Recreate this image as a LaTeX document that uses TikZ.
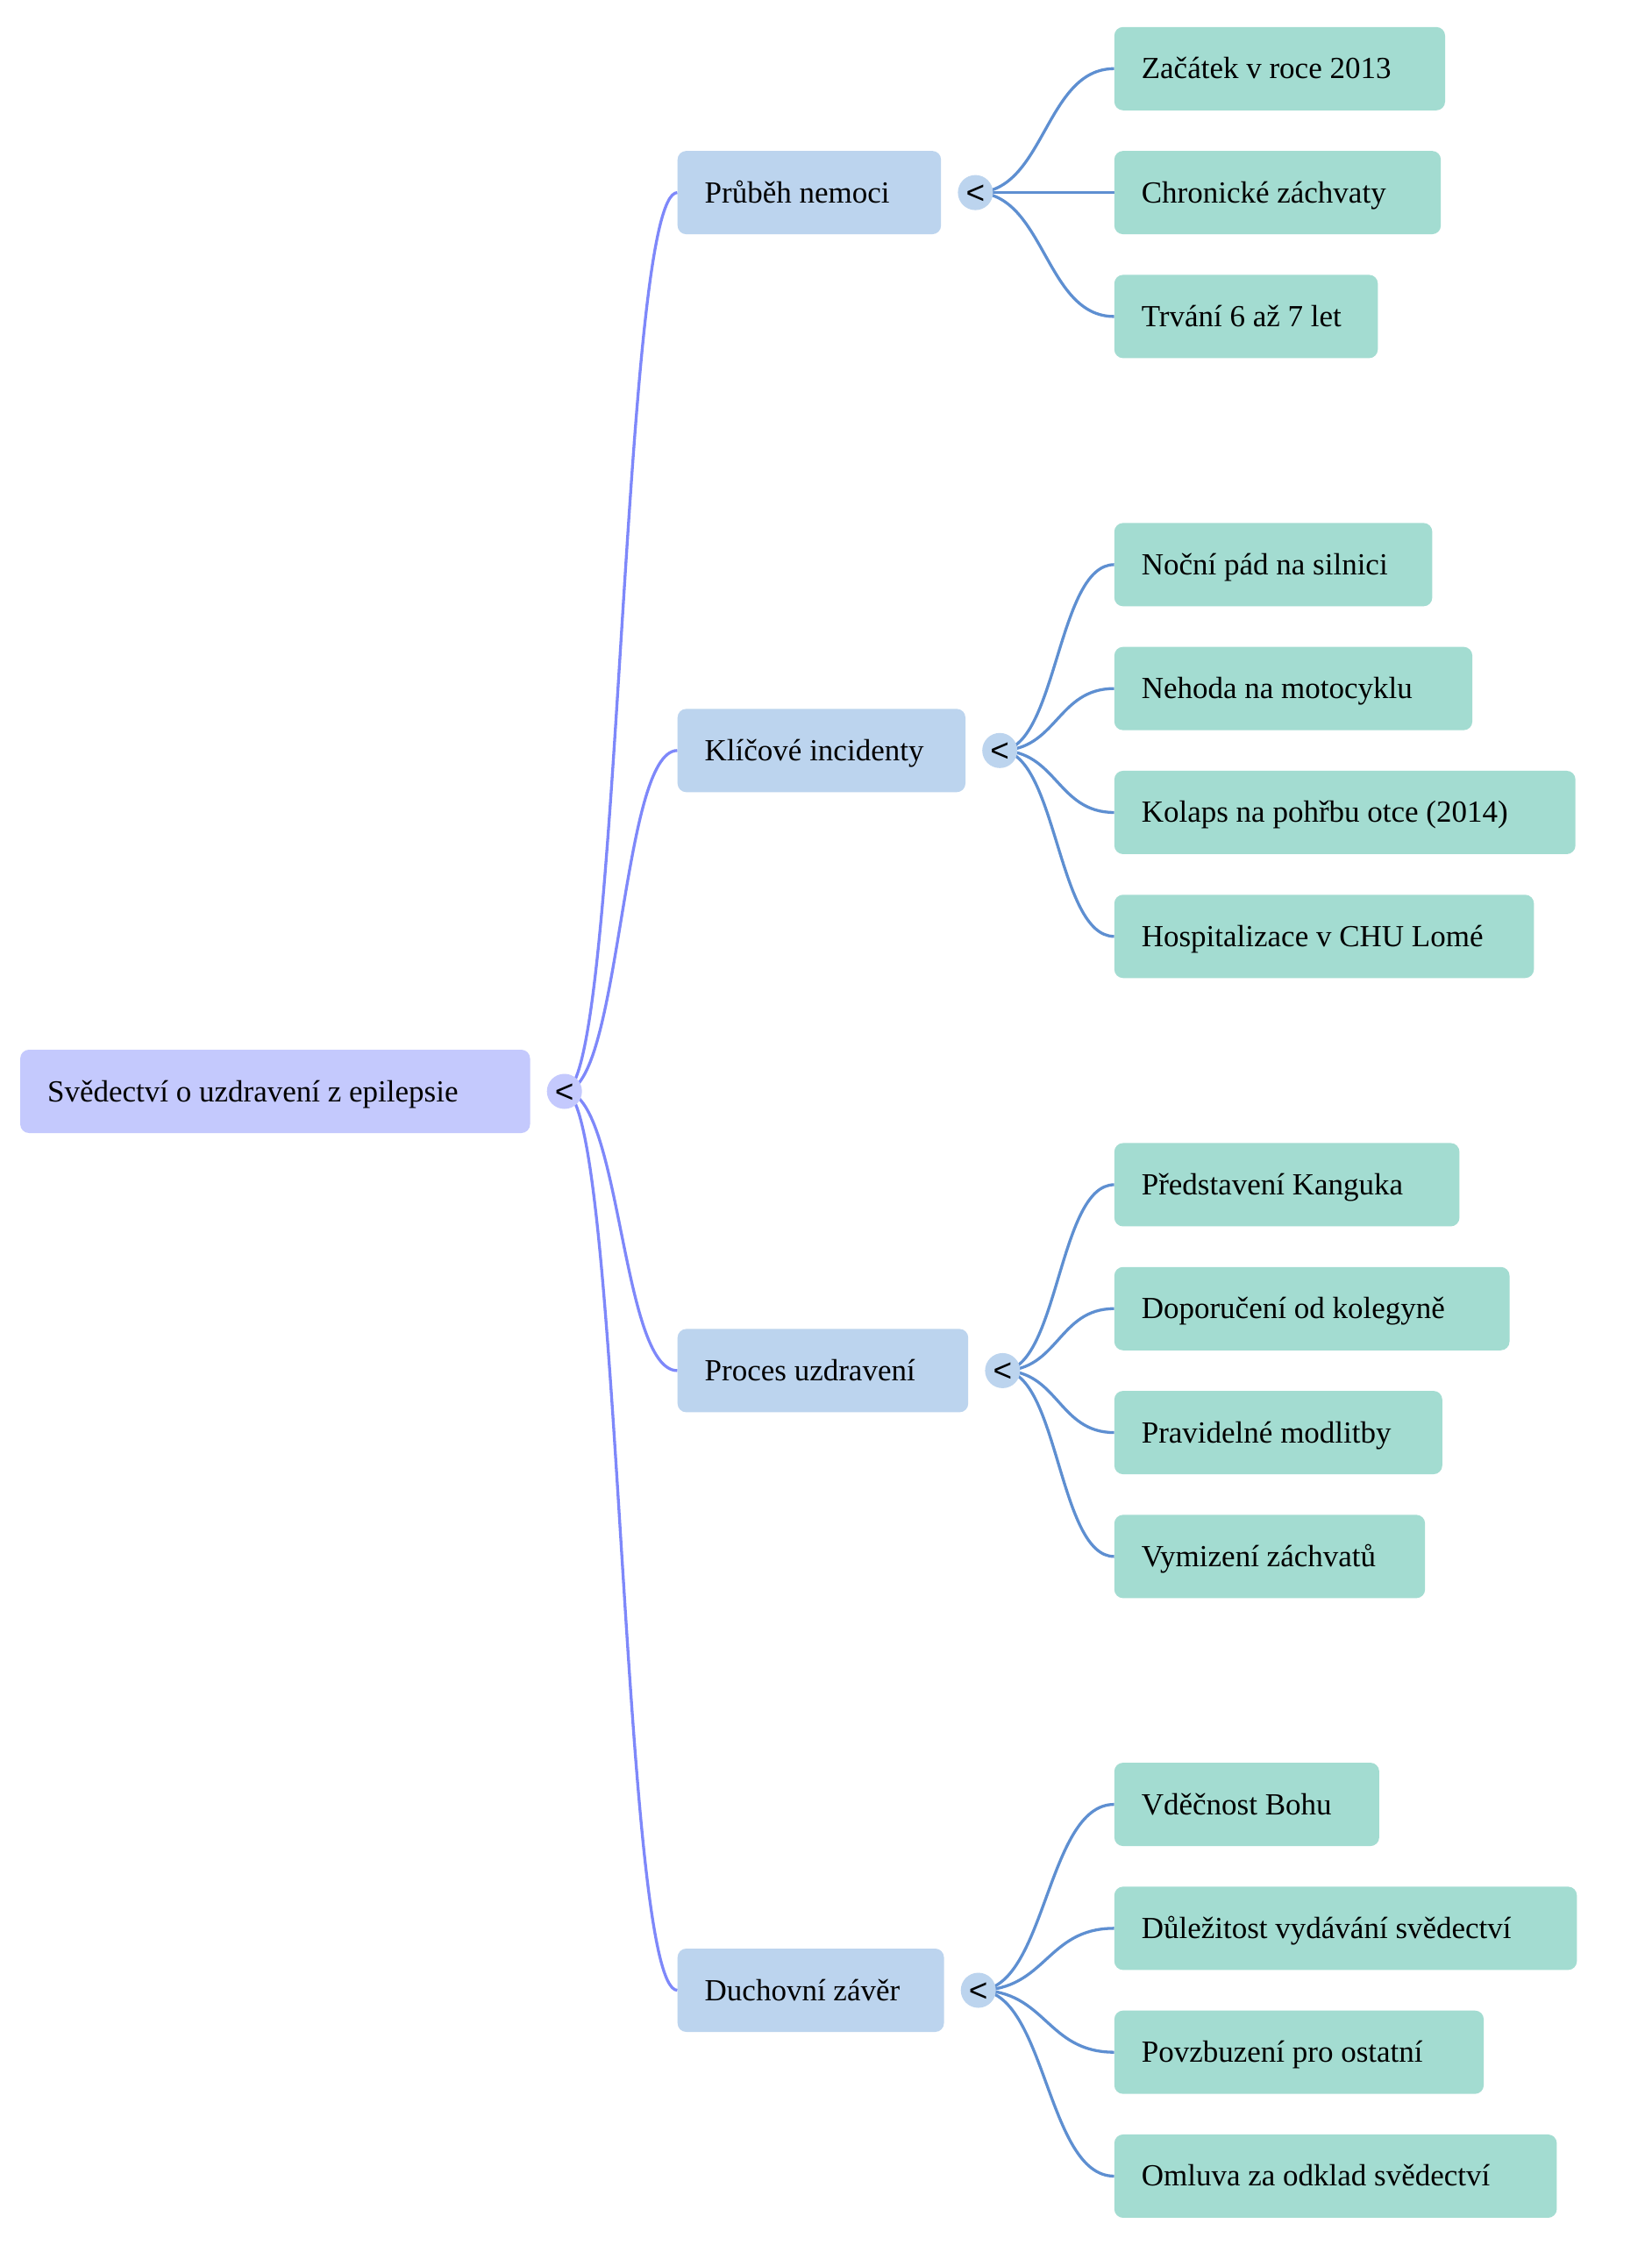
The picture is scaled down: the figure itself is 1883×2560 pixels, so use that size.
\documentclass[tikz,border=0pt]{standalone}
\usepackage{fontspec}
\setmainfont{Liberation Serif}
\newfontfamily\togfont{Liberation Sans}
\usetikzlibrary{calc}
\pgfdeclarelayer{bg}
\pgfsetlayers{bg,main}
\definecolor{rootfill}{RGB}{196,201,253}
\definecolor{lonefill}{RGB}{188,212,238}
\definecolor{ltwofill}{RGB}{163,220,209}
\definecolor{rootlink}{RGB}{126,136,250}
\definecolor{lonelink}{RGB}{94,143,209}
\newcommand\bt[2]{\makebox[#1][l]{#2}}
\begin{document}
\begin{tikzpicture}[x=1pt,y=-1pt,
  base/.style={anchor=west, rounded corners=10pt, minimum height=95pt, inner xsep=31pt, inner ysep=0pt,
    text height=24pt, text depth=1pt, font=\fontsize{35}{40}\selectfont},
  rootbox/.style={base, fill=rootfill},
  lonebox/.style={base, fill=lonefill},
  ltwobox/.style={base, fill=ltwofill},
  tog/.style={circle, minimum size=40pt, inner sep=0pt, text height=26pt, text depth=0pt, font=\togfont\fontsize{37}{37}\selectfont},
  link/.style={to path={let \p1=(\tikztostart), \p2=(\tikztotarget) in
     .. controls ({(\x1+\x2)/2},\y1) and ({(\x1+\x2)/2},\y2) .. (\tikztotarget)}},
  rlink/.style={link, draw=rootlink, line width=3.3pt},
  llink/.style={link, draw=lonelink, line width=3.3pt}]
\path[use as bounding box] (0,0) rectangle (1883,2560);

% root
\node[rootbox] (r) at (22.9,1244.5) {\bt{519.4pt}{Svědectví o uzdravení z epilepsie}};
\node[tog, fill=rootfill] (rc) at ($(r.east)+(39,0)$) {<};

% level 1
\node[lonebox] (p1) at (772.5,219.6) {\bt{238.5pt}{Průběh nemoci}};
\node[lonebox] (p2) at (772.5,855.8) {\bt{266.3pt}{Klíčové incidenty}};
\node[lonebox] (p3) at (772.5,1562.9) {\bt{269.5pt}{Proces uzdravení}};
\node[lonebox] (p4) at (772.5,2269.5) {\bt{241.8pt}{Duchovní závěr}};
\foreach \i in {1,2,3,4}{
  \node[tog, fill=lonefill] (c\i) at ($(p\i.east)+(39,0)$) {<};
}

% level 2, group 1
\node[ltwobox] (a1) at (1270.6,78.3) {\bt{315.2pt}{Začátek v roce 2013}};
\node[ltwobox] (a2) at (1270.6,219.6) {\bt{310.4pt}{Chronické záchvaty}};
\node[ltwobox] (a3) at (1270.6,360.9) {\bt{238.5pt}{Trvání 6 až 7 let}};
% group 2
\node[ltwobox] (b1) at (1270.6,643.85) {\bt{300.6pt}{Noční pád na silnici}};
\node[ltwobox] (b2) at (1270.6,785.15) {\bt{346.3pt}{Nehoda na motocyklu}};
\node[ltwobox] (b3) at (1270.6,926.45) {\bt{463.9pt}{Kolaps na pohřbu otce (2014)}};
\node[ltwobox] (b4) at (1270.6,1067.75) {\bt{416.5pt}{Hospitalizace v CHU Lomé}};
% group 3
\node[ltwobox] (d1) at (1270.6,1350.95) {\bt{331.6pt}{Představení Kanguka}};
\node[ltwobox] (d2) at (1270.6,1492.25) {\bt{388.7pt}{Doporučení od kolegyně}};
\node[ltwobox] (d3) at (1270.6,1633.55) {\bt{312.0pt}{Pravidelné modlitby}};
\node[ltwobox] (d4) at (1270.6,1774.85) {\bt{292.4pt}{Vymizení záchvatů}};
% group 4
\node[ltwobox] (e1) at (1270.6,2057.55) {\bt{240.1pt}{Vděčnost Bohu}};
\node[ltwobox] (e2) at (1270.6,2198.85) {\bt{465.5pt}{Důležitost vydávání svědectví}};
\node[ltwobox] (e3) at (1270.6,2340.15) {\bt{359.3pt}{Povzbuzení pro ostatní}};
\node[ltwobox] (e4) at (1270.6,2481.45) {\bt{442.6pt}{Omluva za odklad svědectví}};

\begin{pgfonlayer}{bg}
\fill[white] (0,0) rectangle (1883,2560);
\foreach \i in {1,2,3,4}{
  \draw[rlink] (rc.center) to (p\i.west);
}
\foreach \j in {a1,a2,a3}{ \draw[llink] (c1.center) to (\j.west); }
\foreach \j in {b1,b2,b3,b4}{ \draw[llink] (c2.center) to (\j.west); }
\foreach \j in {d1,d2,d3,d4}{ \draw[llink] (c3.center) to (\j.west); }
\foreach \j in {e1,e2,e3,e4}{ \draw[llink] (c4.center) to (\j.west); }
\end{pgfonlayer}
\end{tikzpicture}
\end{document}
